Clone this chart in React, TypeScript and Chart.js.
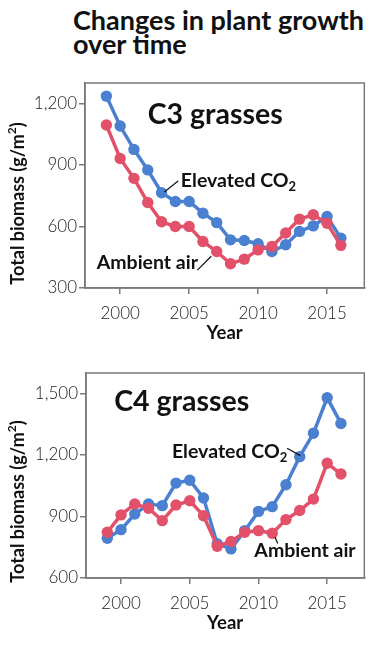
import React, { useEffect, useRef } from "react";
import { Chart, registerables } from "chart.js";

Chart.register(...registerables);

const years = [1999, 2000, 2001, 2002, 2003, 2004, 2005, 2006, 2007, 2008, 2009, 2010, 2011, 2012, 2013, 2014, 2015, 2016];

const c3Elevated = [1236, 1090, 976, 876, 765, 722, 722, 665, 619, 535, 532, 516, 478, 511, 576, 603, 649, 543];
const c3Ambient = [1095, 932, 835, 717, 623, 600, 600, 527, 478, 418, 441, 486, 503, 568, 636, 657, 616, 508];

const c4Elevated = [794, 836, 912, 961, 953, 1063, 1077, 990, 767, 742, 831, 925, 948, 1055, 1192, 1306, 1479, 1354];
const c4Ambient = [823, 908, 961, 940, 880, 956, 977, 904, 755, 778, 823, 831, 818, 885, 929, 985, 1160, 1107];

const xTicks = [2000, 2005, 2010, 2015];
const c3YTicks = [300, 600, 900, 1200];
const c4YTicks = [600, 900, 1200, 1500];

const BLUE = "#4a80cf";
const RED = "#e2506a";
const FONT = "Lato, 'Noto Sans', sans-serif";

type Part = { t: string; sub?: boolean; sup?: boolean };

function drawRich(ctx: CanvasRenderingContext2D, parts: Part[], x: number, y: number, size: number, weight: string) {
  ctx.textBaseline = "middle";
  ctx.textAlign = "left";
  let cx = x;
  for (const p of parts) {
    if (p.sub || p.sup) {
      const s = Math.round(size * 0.68);
      ctx.font = `${weight} ${s}px ${FONT}`;
      const dy = p.sub ? size * 0.32 : -size * 0.32;
      ctx.fillText(p.t, cx, y + dy);
      cx += ctx.measureText(p.t).width;
    } else {
      ctx.font = `${weight} ${size}px ${FONT}`;
      ctx.fillText(p.t, cx, y);
      cx += ctx.measureText(p.t).width;
    }
  }
  return cx - x;
}

function measureRich(ctx: CanvasRenderingContext2D, parts: Part[], size: number, weight: string) {
  let w = 0;
  for (const p of parts) {
    const s = p.sub || p.sup ? Math.round(size * 0.68) : size;
    ctx.font = `${weight} ${s}px ${FONT}`;
    w += ctx.measureText(p.t).width;
  }
  return w;
}

type Label = { parts: Part[]; x: number; y: number; size: number };
type Leader = { x1: number; y1: number; x2: number; y2: number };
type Annot = { labels: Label[]; leaders: Leader[]; yTitleShift: number };

const annotPlugin = {
  id: "annot",
  afterDatasetsDraw(chart: any, _args: any, opts: Annot) {
    const { ctx, chartArea, scales } = chart;
    const xs = scales.x;
    const ys = scales.y;
    ctx.save();
    // box
    ctx.strokeStyle = "#7a7a7a";
    ctx.lineWidth = 1.5;
    ctx.strokeRect(chartArea.left, chartArea.top, chartArea.right - chartArea.left, chartArea.bottom - chartArea.top);
    // leaders
    ctx.strokeStyle = "#111";
    ctx.lineWidth = 1.2;
    for (const l of opts.leaders) {
      ctx.beginPath();
      ctx.moveTo(xs.getPixelForValue(l.x1), ys.getPixelForValue(l.y1));
      ctx.lineTo(xs.getPixelForValue(l.x2), ys.getPixelForValue(l.y2));
      ctx.stroke();
    }
    ctx.fillStyle = "#111";
    for (const lb of opts.labels) {
      drawRich(ctx, lb.parts, xs.getPixelForValue(lb.x), ys.getPixelForValue(lb.y), lb.size, "bold");
    }
    // x title
    ctx.font = `bold 18.5px ${FONT}`;
    ctx.textAlign = "center";
    ctx.textBaseline = "middle";
    ctx.fillText("Year", (chartArea.left + chartArea.right) / 2, chartArea.bottom + 45);
    // y title
    const yParts: Part[] = [{ t: "Total biomass (g/m" }, { t: "2", sup: true }, { t: ")" }];
    const w = measureRich(ctx, yParts, 18, "bold");
    ctx.translate(18, (chartArea.top + chartArea.bottom) / 2 + opts.yTitleShift);
    ctx.rotate(-Math.PI / 2);
    drawRich(ctx, yParts, -w / 2, 0, 18, "bold");
    ctx.restore();
  },
};

function LineChart(props: {
  elevated: number[];
  ambient: number[];
  yTicks: number[];
  yMin: number;
  yMax: number;
  yWidth: number;
  top: number;
  annot: Annot;
}) {
  const ref = useRef<HTMLCanvasElement>(null);
  useEffect(() => {
    const canvas = ref.current!;
    const mk = (vals: number[]) => years.map((y, i) => ({ x: y, y: vals[i] }));
    const ds = (label: string, vals: number[], color: string) => ({
      label,
      data: mk(vals),
      borderColor: color,
      backgroundColor: color,
      borderWidth: 3.5,
      pointRadius: 5.7,
      pointBorderWidth: 0,
      pointBackgroundColor: color,
      tension: 0,
    });
    const chart = new Chart(canvas, {
      type: "line",
      data: {
        datasets: [ds("Ambient air", props.ambient, RED), ds("Elevated CO2", props.elevated, BLUE)],
      },
      options: {
        responsive: false,
        animation: false,
        maintainAspectRatio: false,
        layout: { padding: { top: 13, right: 2, left: 0, bottom: 0 } },
        plugins: {
          legend: { display: false },
          tooltip: { enabled: false },
          annot: props.annot,
        } as any,
        scales: {
          x: {
            type: "linear",
            min: 1997.45,
            max: 2017.7,
            afterBuildTicks: (s: any) => {
              s.ticks = xTicks.map((v) => ({ value: v }));
            },
            afterFit: (s: any) => {
              s.height = 62;
            },
            ticks: {
              callback: (v: any) => String(v),
              font: { family: FONT, size: 17, weight: 300 as any },
              color: "#222",
              padding: 9,
              maxRotation: 0,
            },
            grid: { drawOnChartArea: false, drawTicks: true, tickLength: 6, color: "#7a7a7a", lineWidth: 1.5 },
            border: { display: true, color: "#7a7a7a", width: 1.5 },
          },
          y: {
            type: "linear",
            min: props.yMin,
            max: props.yMax,
            afterBuildTicks: (s: any) => {
              s.ticks = props.yTicks.map((v) => ({ value: v }));
            },
            afterFit: (s: any) => {
              s.width = props.yWidth;
            },
            ticks: {
              callback: (v: any) => Number(v).toLocaleString("en-US"),
              font: { family: FONT, size: 17, weight: 300 as any },
              color: "#222",
              padding: 2,
            },
            grid: { drawOnChartArea: false, drawTicks: true, tickLength: 6, color: "#7a7a7a", lineWidth: 1.5 },
            border: { display: true, color: "#7a7a7a", width: 1.5 },
          },
        },
      },
      plugins: [annotPlugin as any],
    });
    return () => chart.destroy();
  }, []);
  return (
    <canvas
      ref={ref}
      width={370}
      height={280}
      style={{ position: "absolute", left: 0, top: props.top, width: 370, height: 280 }}
    />
  );
}

const c3Annot: Annot = {
  yTitleShift: 18,
  labels: [
    { parts: [{ t: "C3 grasses" }], x: 2002.0, y: 1145, size: 28.5 },
    { parts: [{ t: "Elevated CO" }, { t: "2", sub: true }], x: 2004.4, y: 822, size: 19.5 },
    { parts: [{ t: "Ambient air" }], x: 1998.3, y: 423, size: 19.5 },
  ],
  leaders: [
    { x1: 2003.2, y1: 768, x2: 2004.2, y2: 822 },
    { x1: 2005.6, y1: 387, x2: 2006.6, y2: 455 },
  ],
};

const c4Annot: Annot = {
  yTitleShift: 26,
  labels: [
    { parts: [{ t: "C4 grasses" }], x: 1999.5, y: 1458, size: 28.5 },
    { parts: [{ t: "Elevated CO" }, { t: "2", sub: true }], x: 2003.7, y: 1218, size: 19.5 },
    { parts: [{ t: "Ambient air" }], x: 2009.7, y: 733, size: 19.5 },
  ],
  leaders: [
    { x1: 2012.08, y1: 1233, x2: 2013.04, y2: 1197 },
    { x1: 2011.2, y1: 800, x2: 2011.4, y2: 768 },
  ],
};

export default function App() {
  return (
    <div style={{ position: "absolute", left: 0, top: 0, width: 370, height: 651, background: "#fff" }}>
      <div
        style={{
          position: "absolute",
          left: 73,
          top: 8,
          fontFamily: FONT,
          fontWeight: 700,
          fontSize: 27,
          lineHeight: "24px",
          color: "#111",
          whiteSpace: "nowrap",
        }}
      >
        Changes in plant growth
        <br />
        over time
      </div>
      <LineChart
        elevated={c3Elevated}
        ambient={c3Ambient}
        yTicks={c3YTicks}
        yMin={300}
        yMax={1300}
        yWidth={85}
        top={70}
        annot={c3Annot}
      />
      <LineChart
        elevated={c4Elevated}
        ambient={c4Ambient}
        yTicks={c4YTicks}
        yMin={600}
        yMax={1600}
        yWidth={86}
        top={360}
        annot={c4Annot}
      />
    </div>
  );
}
